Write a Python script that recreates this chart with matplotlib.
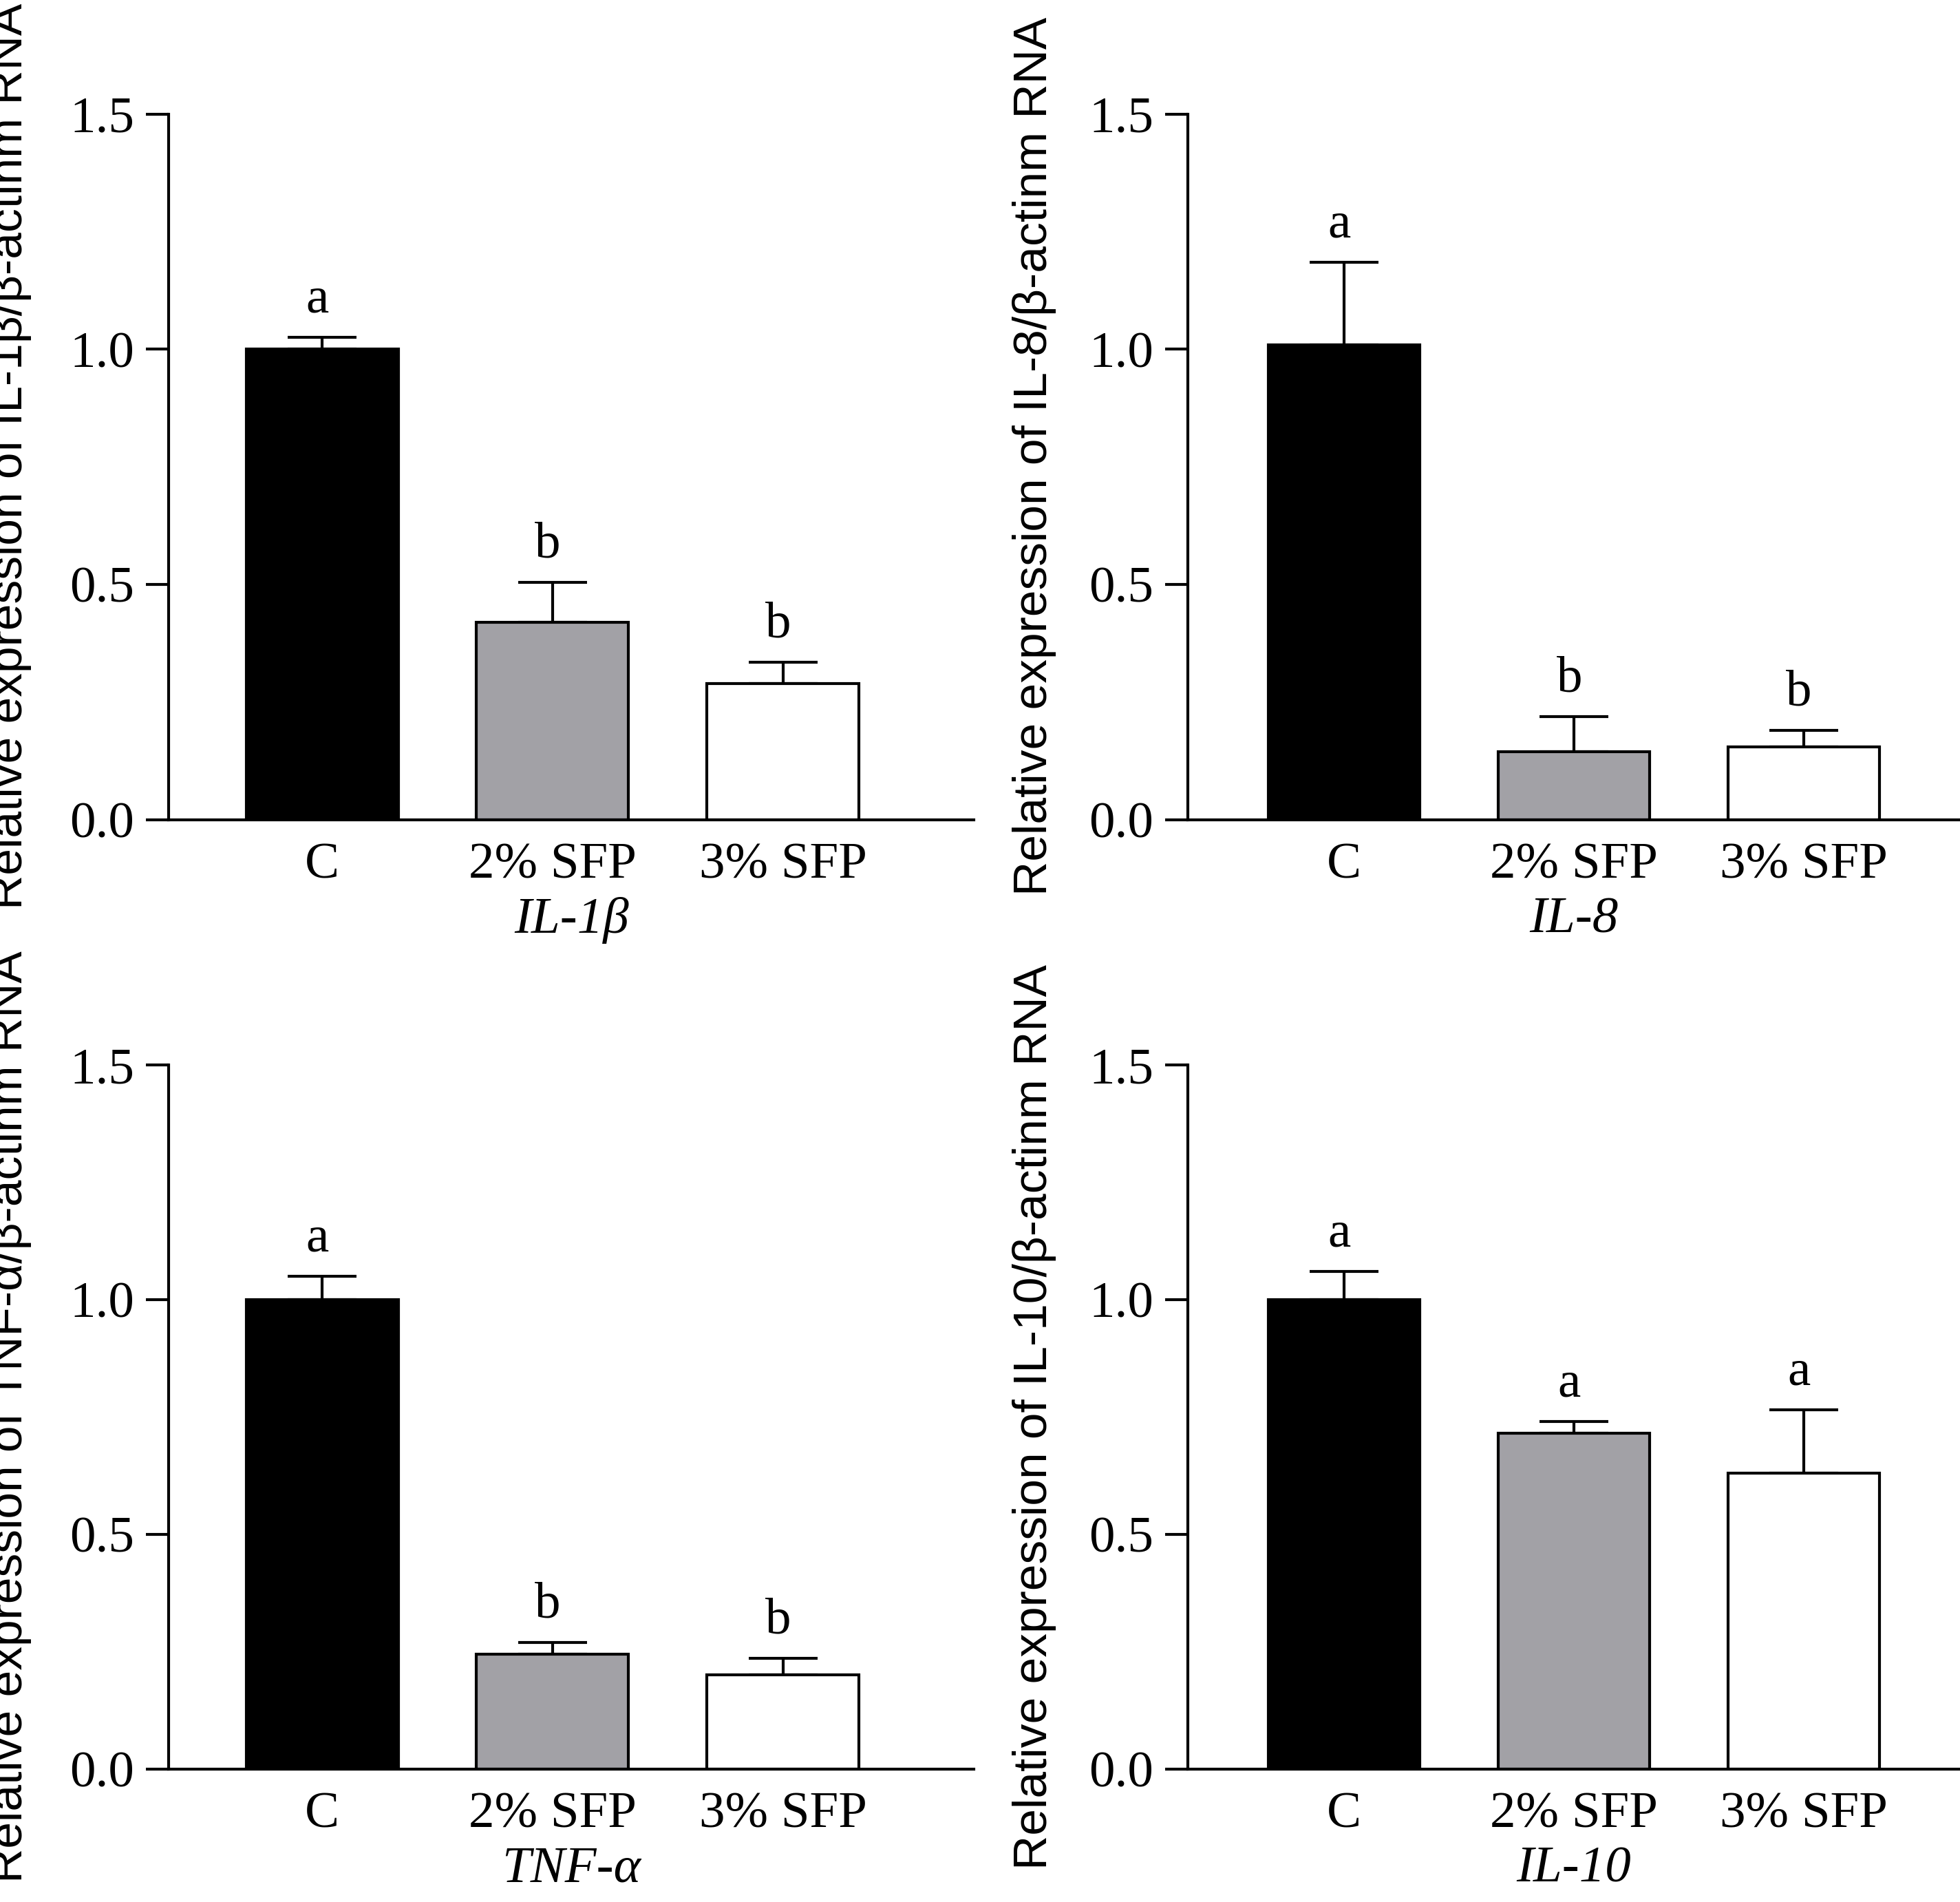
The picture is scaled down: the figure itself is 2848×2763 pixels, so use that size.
import matplotlib
matplotlib.use("Agg")
import matplotlib.pyplot as plt

groups = ["C", "2% SFP", "3% SFP"]
genes = ["IL-1β", "IL-8", "TNF-α", "IL-10"]
means = [[1.00, 0.42, 0.29],
         [1.01, 0.145, 0.155],
         [1.00, 0.245, 0.20],
         [1.00, 0.715, 0.63]]
errs = [[0.025, 0.085, 0.045],
        [0.175, 0.075, 0.035],
        [0.05, 0.025, 0.035],
        [0.06, 0.025, 0.135]]
letters = [["a", "b", "b"], ["a", "b", "b"], ["a", "b", "b"], ["a", "a", "a"]]
colors = ["black", "#a2a1a6", "white"]

fig = plt.figure(figsize=(14.24, 13.815), dpi=200)
boxes = [[0.086, 0.569, 0.411, 0.371], [0.606, 0.569, 0.394, 0.371],
         [0.086, 0.070, 0.411, 0.370], [0.606, 0.070, 0.394, 0.370]]
xlims = [(-0.667, 2.83), (-0.68, 2.68), (-0.667, 2.83), (-0.68, 2.68)]
serif = "Liberation Serif"
fs = 27

for i in range(4):
    ax = fig.add_axes(boxes[i])
    x = range(3)
    ax.bar(x, means[i], width=0.66, color=colors, edgecolor="black", linewidth=1.5, zorder=2)
    ax.errorbar(x, means[i], yerr=[[0, 0, 0], errs[i]], fmt="none", ecolor="black",
                elinewidth=1.5, capsize=18, capthick=1.5, zorder=1)
    for j in x:
        ax.text(j - 0.02, means[i][j] + errs[i][j] + 0.03, letters[i][j], ha="center",
                va="bottom", fontsize=fs, family=serif)
    ax.set_xlim(*xlims[i])
    ax.set_ylim(0, 1.5)
    ax.set_yticks([0, 0.5, 1.0, 1.5])
    ax.set_yticklabels(["0.0", "0.5", "1.0", "1.5"], fontsize=fs, family=serif)
    ax.set_xticks(list(x))
    ax.set_xticklabels(groups, fontsize=fs, family=serif)
    ax.tick_params(axis="x", length=0, pad=12)
    ax.tick_params(axis="y", length=12, width=1.5, direction="out", pad=6)
    for s in ["top", "right"]:
        ax.spines[s].set_visible(False)
    for s in ["left", "bottom"]:
        ax.spines[s].set_linewidth(1.5)
    ax.set_xlabel(genes[i], fontsize=fs, family=serif, style="italic", labelpad=4)
    ax.set_ylabel("Relative expression of " + genes[i] + "/β-actinm RNA",
                  fontsize=25, family="Liberation Sans")
    ax.yaxis.set_label_coords(-0.17, 0.515 if i < 2 else 0.50)

fig.savefig("out.png", dpi=200)
